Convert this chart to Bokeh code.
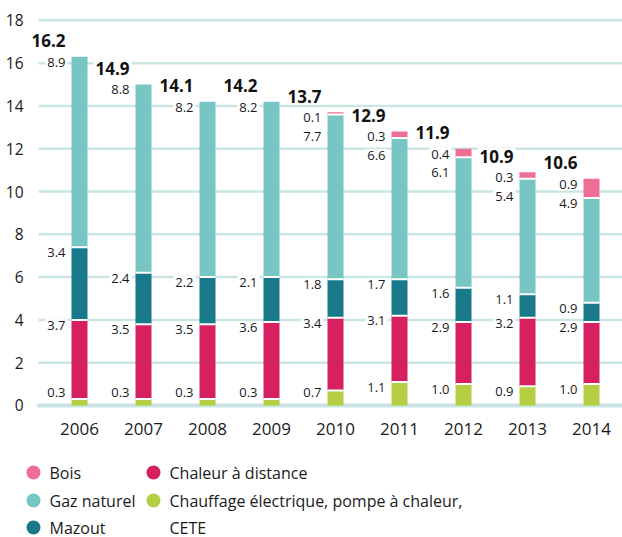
import numpy as np
from bokeh.plotting import figure
from bokeh.models import ColumnDataSource, Range1d, FixedTicker
from bokeh.embed import file_html
from bokeh.resources import INLINE
from bokeh.core.properties import value

# ---- data ----
years = ["2006", "2007", "2008", "2009", "2010", "2011", "2012", "2013", "2014"]
electrique = [0.3, 0.3, 0.3, 0.3, 0.7, 1.1, 1.0, 0.9, 1.0]
chaleur = [3.7, 3.5, 3.5, 3.6, 3.4, 3.1, 2.9, 3.2, 2.9]
mazout = [3.4, 2.4, 2.2, 2.1, 1.8, 1.7, 1.6, 1.1, 0.9]
gaz = [8.9, 8.8, 8.2, 8.2, 7.7, 6.6, 6.1, 5.4, 4.9]
bois = [0.0, 0.0, 0.0, 0.0, 0.1, 0.3, 0.4, 0.3, 0.9]
totals = [16.2, 14.9, 14.1, 14.2, 13.7, 12.9, 11.9, 10.9, 10.6]
y_ticks = [0, 2, 4, 6, 8, 10, 12, 14, 16, 18]
legend_labels = ["Bois", "Gaz naturel", "Mazout", "Chaleur à distance",
                 "Chauffage électrique, pompe à chaleur,\nCETE"]

# ---- styles ----
FONT = "Open Sans"
TXT = "#1a1a1a"
GRID = "#c9e5e4"
C_ELEC = "#b5cf42"
C_CHAL = "#d6205f"
C_MAZ = "#17798a"
C_GAZ = "#77c6c4"
C_BOIS = "#ef6e98"
BAR_W = 0.25
X_LO, X_HI = -0.75, 8.484
GRID_START = -0.64

segs = [electrique, chaleur, mazout, gaz, bois]
seg_colors = [C_ELEC, C_CHAL, C_MAZ, C_GAZ, C_BOIS]
n = len(years)
xs = list(range(n))

p = figure(width=622, height=445, x_range=Range1d(X_LO, X_HI),
           y_range=Range1d(-0.187, 18.32), output_backend="svg",
           toolbar_location=None, min_border_left=31, min_border_right=0,
           min_border_top=13, min_border_bottom=36)
p.outline_line_color = None
p.background_fill_color = "white"
p.grid.grid_line_color = None

p.yaxis.ticker = FixedTicker(ticks=y_ticks)
p.xaxis.ticker = FixedTicker(ticks=xs)
p.xaxis.major_label_overrides = {i: y for i, y in enumerate(years)}
for ax in (p.xaxis[0], p.yaxis[0]):
    ax.axis_line_color = None
    ax.major_tick_line_color = None
    ax.minor_tick_line_color = None
    ax.major_label_text_font = FONT
    ax.major_label_text_color = TXT
p.yaxis.major_label_text_font_size = "15.5px"
p.yaxis.major_label_standoff = 2
p.xaxis.major_label_text_font_size = "17px"
p.xaxis.major_label_standoff = 7

# gridlines (drawn from the tick values, starting a little right of the frame edge)
g_ticks = [t for t in y_ticks if t != 0]
p.segment(x0=[GRID_START] * len(g_ticks), x1=[X_HI + 1] * len(g_ticks),
          y0=g_ticks, y1=g_ticks, line_color=GRID, line_width=2.5)
p.segment(x0=[GRID_START], x1=[X_HI + 1], y0=[0], y1=[0], line_color=GRID,
          line_width=4, line_cap="round")

# stacked bars
bottoms = np.zeros(n)
for vals, col in zip(segs, seg_colors):
    v = np.array(vals)
    src = ColumnDataSource(dict(x=xs, bottom=bottoms.copy(), top=bottoms + v))
    p.vbar(x="x", bottom="bottom", top="top", width=BAR_W, source=src,
           fill_color=col, line_color=None)
    bottoms = bottoms + v

# white separators and labels
sx0, sx1, sy = [], [], []
lx, ly, lt = [], [], []
tx, ty, tt = [], [], []
for i in range(n):
    vals = [s[i] for s in segs]
    tops = np.cumsum(vals)
    for k in range(len(vals) - 1):
        if vals[k + 1] > 0:
            sx0.append(i - BAR_W / 2)
            sx1.append(i + BAR_W / 2)
            sy.append(tops[k])
    prev = None
    first = None
    for k in reversed(range(len(vals))):
        v = vals[k]
        if v <= 0:
            continue
        y = tops[k] - 0.25
        if prev is not None:
            y = min(y, prev - 0.88)
        if k == 0:
            y = max(y, 0.6)
        if first is None:
            first = y
        prev = y
        lx.append(i - BAR_W / 2)
        ly.append(y)
        lt.append(f"{v:.1f}")
    tx.append(i - BAR_W / 2)
    ty.append(first + 1.0)
    tt.append(f"{totals[i]:.1f}")

p.segment(x0=sx0, x1=sx1, y0=sy, y1=sy, line_color="white", line_width=2)

p.text(x=lx, y=ly, text=lt, text_align="right", text_baseline="middle",
       x_offset=-4, text_font=value(FONT), text_font_size="13px",
       text_color=TXT, background_fill_color="white", padding=2)
p.text(x=tx, y=ty, text=tt, text_align="right", text_baseline="middle",
       x_offset=-4, text_font=value(FONT), text_font_size="17px",
       text_font_style="bold", text_color="#111111",
       background_fill_color="white", padding=2)

# ---- legend figure (separate root, no axes, frame fills the whole figure) ----
lg = figure(width=622, height=92, x_range=Range1d(0, 622), y_range=Range1d(92, 0),
            x_axis_type=None, y_axis_type=None,
            output_backend="svg", toolbar_location=None, min_border=0)
lg.outline_line_color = None
lg.grid.visible = False

leg_colors = [C_BOIS, C_GAZ, C_MAZ, C_CHAL, C_ELEC]
col_x = [33, 153]
row_y = [27, 55, 82]
cx, cy, cc = [], [], []
ltx, lty, ltt = [], [], []
for idx, (lab, colr) in enumerate(zip(legend_labels, leg_colors)):
    c = 0 if idx < 3 else 1
    r = idx if idx < 3 else idx - 3
    cx.append(col_x[c]); cy.append(row_y[r]); cc.append(colr)
    for j, line in enumerate(lab.split("\n")):
        ltx.append(col_x[c] + 16); lty.append(row_y[r + j]); ltt.append(line)

lg.scatter(x=cx, y=cy, size=14, fill_color=cc, line_color=None)
lg.text(x=ltx, y=lty, text=ltt, text_align="left", text_baseline="middle",
        text_font=value(FONT), text_font_size="16px", text_color=TXT)

open("out.html", "w").write(file_html([p, lg], INLINE))
